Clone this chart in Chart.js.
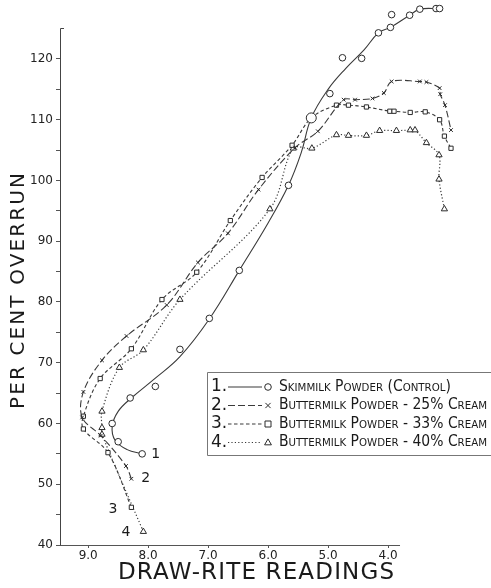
<!DOCTYPE html>
<html lang="en">
<head>
<meta charset="UTF-8">
<title>Per cent overrun vs Draw-Rite readings</title>
<script src="https://cdn.jsdelivr.net/npm/chart.js"></script>
<style>
  html, body { margin: 0; padding: 0; background: #fff; }
</style>
</head>
<body>
<canvas id="overrunChart" width="491" height="588"></canvas>
<script>
// values
const seriesNames = [
  'Skimmilk Powder (Control)',
  'Buttermilk Powder - 25% Cream',
  'Buttermilk Powder - 33% Cream',
  'Buttermilk Powder - 40% Cream'
];
const xTitle = 'DRAW-RITE READINGS';
const yTitle = 'PER CENT OVERRUN';
const xTicks = [9.0, 8.0, 7.0, 6.0, 5.0, 4.0];
const yTicks = [40, 45, 50, 55, 60, 65, 70, 75, 80, 85, 90, 95, 100, 105, 110, 115, 120];

// 1. skimmilk powder: measured points and the drawn curve
const s1PointsX = [8.1, 8.5, 8.6, 8.3, 7.88, 7.47, 6.98, 6.48, 5.66, 5.28, 4.97, 4.76, 4.44, 4.16, 3.96, 3.94, 3.64, 3.47, 3.2, 3.14];
const s1PointsY = [55, 57, 60, 64.2, 66.1, 72.2, 77.3, 85.2, 99.2, 110.3, 114.3, 120.2, 120.1, 124.3, 125.2, 127.3, 127.2, 128.2, 128.3, 128.3];
const s1CurveX = [8.1, 8.35, 8.55, 8.6, 8.5, 8.28, 7.9, 7.47, 6.98, 6.48, 6.0, 5.66, 5.45, 5.28, 5.0, 4.7, 4.4, 4.16, 3.96, 3.64, 3.47, 3.14];
const s1CurveY = [55, 55.7, 57.2, 59.5, 62, 64.2, 67.3, 71, 77.2, 85.2, 93, 99.2, 104.5, 110.3, 115, 118.5, 121.5, 124.3, 125.2, 127.2, 128.2, 128.3];

// 2. buttermilk powder 25% cream
const s2X = [8.28, 8.37, 8.79, 9.1, 9.08, 8.77, 8.36, 7.69, 7.17, 6.67, 6.16, 5.55, 5.17, 4.74, 4.55, 4.26, 4.07, 3.94, 3.47, 3.36, 3.14, 3.13, 3.05, 2.95];
const s2Y = [50.9, 53, 58, 61, 65.2, 70.4, 74.4, 79.5, 86.5, 91.3, 98.5, 105.4, 108.1, 113.3, 113.3, 113.5, 114.4, 116.3, 116.3, 116.2, 115.2, 114.2, 112.4, 108.3];

// 3. buttermilk powder 33% cream
const s3X = [8.28, 8.67, 9.08, 9.08, 8.8, 8.28, 7.77, 7.19, 6.63, 6.1, 5.6, 5.28, 4.86, 4.66, 4.36, 3.97, 3.9, 3.63, 3.38, 3.14, 3.06, 2.95];
const s3Y = [46.2, 55.2, 59.1, 61.2, 67.4, 72.3, 80.4, 84.9, 93.4, 100.5, 105.8, 110.3, 112.4, 112.4, 112.1, 111.4, 111.4, 111.2, 111.3, 110, 107.3, 105.3];

// 4. buttermilk powder 40% cream
const s4X = [8.08, 8.77, 8.77, 8.77, 8.48, 8.08, 7.47, 5.97, 5.58, 5.27, 4.86, 4.66, 4.36, 4.14, 3.86, 3.63, 3.55, 3.36, 3.15, 3.15, 3.06];
const s4Y = [42.2, 58.2, 59.3, 62, 69.2, 72.1, 80.4, 95.3, 105.3, 105.3, 107.5, 107.4, 107.4, 108.2, 108.2, 108.3, 108.3, 106.2, 104.2, 100.2, 95.3];

function pts(xs, ys) { return xs.map((x, i) => ({ x: x, y: ys[i] })); }

const ink = '#2b2b2b';
const lineInk = '#3a3a3a';
// top of the drawn y axis (the curve 1 points go above it)
const yAxisTop = 125.1;

const datasets = [
  { label: seriesNames[0], data: pts(s1PointsX, s1PointsY), showLine: false,
    pointStyle: 'circle', pointRadius: s1PointsX.map((x, i) => (i === 9 ? 5 : 3.3)),
    pointBorderWidth: 1, pointBorderColor: ink, pointBackgroundColor: '#fff', clip: false, order: 0 },
  { label: 'curve 1', data: pts(s1CurveX, s1CurveY), showLine: true, pointRadius: 0,
    borderColor: lineInk, borderWidth: 1.1, tension: 0.4, clip: false, order: 1 },
  { label: seriesNames[1], data: pts(s2X, s2Y), showLine: true, borderColor: lineInk, borderWidth: 1.1,
    borderDash: [7, 3], tension: 0.35, pointStyle: 'crossRot', pointRadius: 2.6, pointBorderWidth: 1,
    pointBorderColor: ink, pointBackgroundColor: '#fff', clip: false, order: 1 },
  { label: seriesNames[2], data: pts(s3X, s3Y), showLine: true, borderColor: lineInk, borderWidth: 1.1,
    borderDash: [3.5, 2.5], tension: 0.35, pointStyle: 'rect', pointRadius: 3, pointBorderWidth: 1,
    pointBorderColor: ink, pointBackgroundColor: '#fff', clip: false, order: 1 },
  { label: seriesNames[3], data: pts(s4X, s4Y), showLine: true, borderColor: lineInk, borderWidth: 1.2,
    borderDash: [1.2, 2.2], tension: 0.35, pointStyle: 'triangle', pointRadius: 3.6, pointBorderWidth: 1,
    pointBorderColor: ink, pointBackgroundColor: '#fff', clip: false, order: 1 }
];

// which dataset gives the legend line and the legend marker for each row
const legendLine = [1, 2, 3, 4];
const legendMark = [0, 2, 3, 4];

function drawMarker(ctx, style, x, y, r) {
  ctx.beginPath();
  if (style === 'circle') {
    ctx.arc(x, y, r, 0, Math.PI * 2);
  } else if (style === 'rect') {
    ctx.rect(x - r, y - r, 2 * r, 2 * r);
  } else if (style === 'triangle') {
    ctx.moveTo(x, y - r);
    ctx.lineTo(x + r * 0.95, y + r * 0.65);
    ctx.lineTo(x - r * 0.95, y + r * 0.65);
    ctx.closePath();
  } else {
    ctx.moveTo(x - r, y - r); ctx.lineTo(x + r, y + r);
    ctx.moveTo(x + r, y - r); ctx.lineTo(x - r, y + r);
  }
  ctx.fillStyle = '#fff';
  if (style !== 'crossRot') ctx.fill();
  ctx.stroke();
}

// text drawn with its letter spacing stretched to a given length
function spacedText(ctx, text, cx, cy, len) {
  ctx.letterSpacing = '0px';
  const w = ctx.measureText(text).width;
  const sp = (len - w) / (text.length - 1);
  ctx.letterSpacing = sp + 'px';
  ctx.textAlign = 'left';
  ctx.textBaseline = 'middle';
  ctx.fillText(text, cx - len / 2, cy);
  ctx.letterSpacing = '0px';
}

const extras = {
  id: 'extras',
  afterDraw(chart) {
    const ctx = chart.ctx;
    const xs = chart.scales.x, ys = chart.scales.y;
    const area = chart.chartArea;
    const yTop = Math.round(ys.getPixelForValue(yAxisTop)) + 0.5;
    ctx.save();

    // axis lines: short x axis and a y axis ending below the top points
    ctx.strokeStyle = '#555';
    ctx.lineWidth = 1;
    ctx.beginPath();
    ctx.moveTo(area.left, area.bottom + 0.5);
    ctx.lineTo(xs.getPixelForValue(3.8), area.bottom + 0.5);
    ctx.stroke();
    ctx.strokeStyle = '#444';
    ctx.beginPath();
    ctx.moveTo(area.left + 4, yTop);
    ctx.lineTo(area.left + 0.5, yTop);
    ctx.lineTo(area.left + 0.5, area.bottom + 0.5);
    ctx.stroke();

    // axis titles
    ctx.fillStyle = '#1a1a1a';
    ctx.font = '20px "DejaVu Sans"';
    ctx.save();
    ctx.translate(19, 291);
    ctx.rotate(-Math.PI / 2);
    spacedText(ctx, yTitle, 0, 0, 236);
    ctx.restore();
    ctx.font = '23px "DejaVu Sans"';
    spacedText(ctx, xTitle, 256, 573, 276);

    // curve numbers next to the first point of each curve
    ctx.font = '14px "DejaVu Sans"';
    ctx.textBaseline = 'middle';
    const ends = [[s1PointsX[0], s1PointsY[0], 9, 0], [s2X[0], s2Y[0], 10, 0],
                  [s3X[0], s3Y[0], -14, 2], [s4X[0], s4Y[0], -13, 1]];
    ends.forEach((e, i) => {
      ctx.textAlign = e[2] > 0 ? 'left' : 'right';
      ctx.fillText(String(i + 1), xs.getPixelForValue(e[0]) + e[2], ys.getPixelForValue(e[1]) + e[3]);
    });

    // legend box
    const top = 372, bottom = 455, left = 207;
    ctx.strokeStyle = '#777';
    ctx.lineWidth = 1;
    ctx.beginPath();
    ctx.moveTo(chart.width, top + 0.5);
    ctx.lineTo(left + 0.5, top + 0.5);
    ctx.lineTo(left + 0.5, bottom + 0.5);
    ctx.lineTo(chart.width, bottom + 0.5);
    ctx.stroke();

    ctx.font = 'small-caps 15px "DejaVu Sans"';
    const widest = Math.max(...seriesNames.map(n => ctx.measureText(n).width));
    const squeeze = Math.min(1, 208 / widest);
    for (let i = 0; i < 4; i++) {
      const y = 387 + i * 18.5;
      const lineDs = chart.data.datasets[legendLine[i]];
      const markDs = chart.data.datasets[legendMark[i]];
      ctx.fillStyle = '#1a1a1a';
      ctx.font = '17px "DejaVu Sans"';
      ctx.textAlign = 'left';
      ctx.textBaseline = 'middle';
      ctx.fillText((i + 1) + '.', 211, y);
      ctx.strokeStyle = lineInk;
      ctx.lineWidth = 1.1;
      ctx.setLineDash(lineDs.borderDash || []);
      ctx.beginPath();
      ctx.moveTo(228, y);
      ctx.lineTo(262, y);
      ctx.stroke();
      ctx.setLineDash([]);
      ctx.strokeStyle = ink;
      ctx.lineWidth = 1;
      const r = Array.isArray(markDs.pointRadius) ? 3.3 : markDs.pointRadius;
      drawMarker(ctx, markDs.pointStyle, 268, y, r);
      ctx.fillStyle = '#1a1a1a';
      ctx.font = 'small-caps 15px "DejaVu Sans"';
      ctx.save();
      ctx.translate(279, y);
      ctx.scale(squeeze, 1);
      ctx.fillText(seriesNames[i], 0, 0);
      ctx.restore();
    }
    ctx.restore();
  }
};

new Chart(document.getElementById('overrunChart'), {
  type: 'scatter',
  data: { datasets: datasets },
  options: {
    responsive: false,
    animation: false,
    events: [],
    devicePixelRatio: 1,
    layout: { autoPadding: false, padding: { top: 4.3, right: 37, left: 0, bottom: 0 } },
    plugins: { legend: { display: false }, tooltip: { enabled: false } },
    scales: {
      x: {
        type: 'linear',
        reverse: true,
        min: 2.9,
        max: 9.47,
        afterFit(s) { s.height = 43; },
        afterBuildTicks(s) { s.ticks = xTicks.map(v => ({ value: v })); },
        border: { display: false },
        grid: { drawOnChartArea: false, tickLength: 3, color: '#555' },
        ticks: {
          padding: 1,
          color: '#222',
          font: { family: 'DejaVu Sans', size: 12 },
          callback: v => Number(v).toFixed(1)
        }
      },
      y: {
        type: 'linear',
        min: 40,
        max: 129,
        afterFit(s) { s.width = 60; s.paddingTop = 0; s.paddingBottom = 0; },
        afterBuildTicks(s) { s.ticks = yTicks.map(v => ({ value: v })); },
        border: { display: false },
        grid: { drawOnChartArea: false, tickLength: 4, color: '#555' },
        ticks: {
          padding: 3,
          color: '#222',
          font: { family: 'DejaVu Sans', size: 12 },
          callback: v => (v % 10 === 0 ? String(v) : '')
        }
      }
    }
  },
  plugins: [extras]
});
</script>
</body>
</html>
